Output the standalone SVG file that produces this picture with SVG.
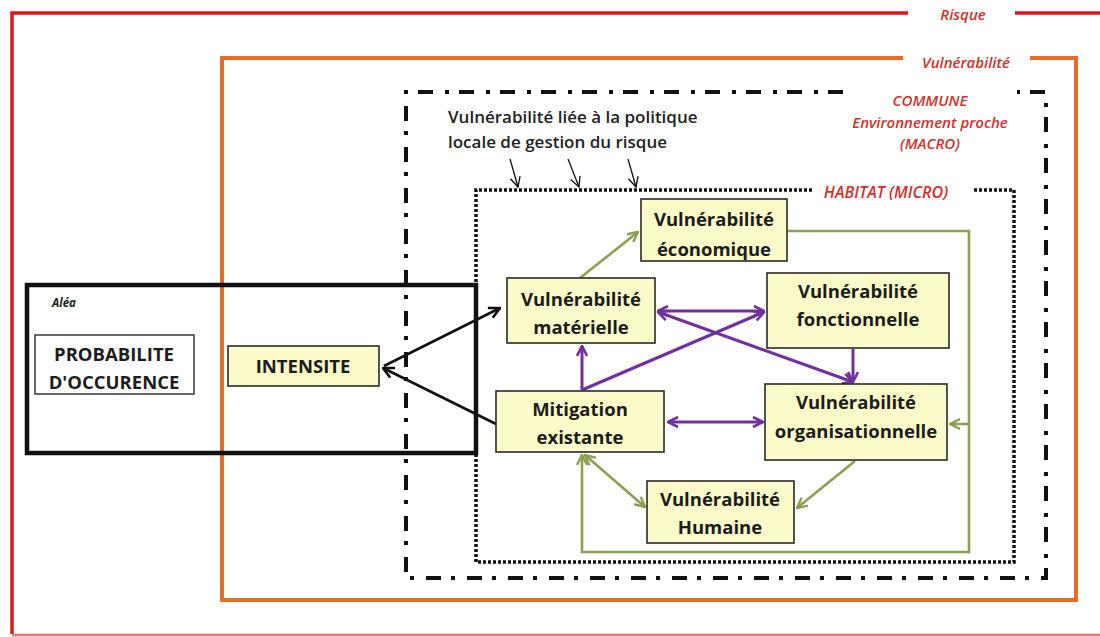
<svg xmlns="http://www.w3.org/2000/svg" width="1100" height="637" viewBox="0 0 1100 637">
<defs>
<style>
.node{fill:#fbfbc9;stroke:#2a2a2a;stroke-width:1.6}
.nt{font-family:"Open Sans","Liberation Sans",sans-serif;font-weight:700;font-size:18.5px;fill:#1c1c1c;text-anchor:middle}
.rt{font-family:"Open Sans","Liberation Sans",sans-serif;font-style:italic;font-weight:600;fill:#d2302c;text-anchor:middle}
.pu{stroke:#7030a0;stroke-width:3;fill:none}
.gr{stroke:#8ba052;stroke-width:2.6;fill:none}
.bk{stroke:#111;stroke-width:2.6;fill:none}
</style>
<marker id="ap" viewBox="0 0 12 12" refX="11" refY="6" markerWidth="12" markerHeight="12" markerUnits="userSpaceOnUse" orient="auto-start-reverse"><path d="M1,1 L11,6 L1,11" fill="none" stroke="#7030a0" stroke-width="2.6"/></marker>
<marker id="ag" viewBox="0 0 12 12" refX="11" refY="6" markerWidth="12" markerHeight="12" markerUnits="userSpaceOnUse" orient="auto-start-reverse"><path d="M1,1 L11,6 L1,11" fill="none" stroke="#8ba052" stroke-width="2.4"/></marker>
<marker id="ab" viewBox="0 0 12 12" refX="11" refY="6" markerWidth="13" markerHeight="13" markerUnits="userSpaceOnUse" orient="auto-start-reverse"><path d="M1,1 L11,6 L1,11" fill="none" stroke="#111" stroke-width="2.4"/></marker>
<marker id="at" viewBox="0 0 12 12" refX="11" refY="6" markerWidth="12" markerHeight="12" markerUnits="userSpaceOnUse" orient="auto"><path d="M1,1 L11,6 L1,11" fill="none" stroke="#111" stroke-width="1.3"/></marker>
</defs>
<rect width="1100" height="637" fill="#ffffff"/>

<g id="frame-risque">
<path d="M908,13 H12 V634" fill="none" stroke="#e0141e" stroke-width="3.5"/>
<path d="M1015,13 H1100" fill="none" stroke="#e0141e" stroke-width="3.5"/>
<path d="M12,635 H1100" fill="none" stroke="#f07272" stroke-width="2.5"/>
<text class="rt" x="963" y="20" font-size="15" font-weight="700">Risque</text>
</g>

<g id="frame-vulnerabilite">
<path d="M903,58 H222 V600 H1076 V58 H1030" fill="none" stroke="#ea6b26" stroke-width="4"/>
<text class="rt" x="966" y="68" font-size="15">Vulnérabilité</text>
</g>

<g id="frame-commune">
<path d="M843,92 H406 V578 H1046 V92 H1017" fill="none" stroke="#111" stroke-width="4" stroke-dasharray="15 10 4 12"/>
<text class="rt" x="930" y="106" font-size="15">COMMUNE</text>
<text class="rt" x="930" y="128" font-size="15">Environnement proche</text>
<text class="rt" x="930" y="149" font-size="15">(MACRO)</text>
</g>

<g id="politique">
<text font-family="'Open Sans','Liberation Sans',sans-serif" font-weight="600" font-size="17" fill="#222" x="448" y="123">Vulnérabilité liée à la politique</text>
<text font-family="'Open Sans','Liberation Sans',sans-serif" font-weight="600" font-size="17" fill="#222" x="448" y="148">locale de gestion du risque</text>
<line x1="510" y1="159" x2="518" y2="187" stroke="#111" stroke-width="1.3" marker-end="url(#at)"/>
<line x1="568" y1="159" x2="579" y2="187" stroke="#111" stroke-width="1.3" marker-end="url(#at)"/>
<line x1="628" y1="159" x2="636" y2="187" stroke="#111" stroke-width="1.3" marker-end="url(#at)"/>
</g>

<g id="frame-habitat">
<path d="M812,190 H476 V562 H1014 V190 H973" fill="none" stroke="#111" stroke-width="3.5" stroke-dasharray="3 2"/>
<text class="rt" x="886" y="198" font-size="16">HABITAT  (MICRO)</text>
</g>

<g id="alea">
<rect x="27" y="285" width="449" height="168" fill="none" stroke="#111" stroke-width="4.5"/>
<text x="52" y="307" font-family="'Open Sans','Liberation Sans',sans-serif" font-style="italic" font-weight="700" font-size="11.5" fill="#222">Aléa</text>
</g>

<g id="connectors">
<line class="bk" x1="384" y1="366" x2="500" y2="308" marker-end="url(#ab)"/>
<line class="bk" x1="496" y1="424" x2="383" y2="368" marker-end="url(#ab)"/>
<line class="gr" x1="580" y1="278" x2="638" y2="232" marker-end="url(#ag)"/>
<path class="gr" d="M788,231 H969 V552 H582 V455" marker-end="url(#ag)"/>
<line class="gr" x1="969" y1="424" x2="950" y2="424" marker-end="url(#ag)"/>
<line class="gr" x1="855" y1="461" x2="797" y2="508" marker-end="url(#ag)"/>
<line class="gr" x1="585" y1="455" x2="645" y2="507" marker-start="url(#ag)" marker-end="url(#ag)"/>
<line class="pu" x1="658" y1="311" x2="764" y2="311" marker-start="url(#ap)" marker-end="url(#ap)"/>
<line class="pu" x1="658" y1="312" x2="853" y2="382" marker-start="url(#ap)" marker-end="url(#ap)"/>
<line class="pu" x1="582" y1="390" x2="764" y2="312" marker-end="url(#ap)"/>
<line class="pu" x1="582" y1="390" x2="582" y2="346" marker-end="url(#ap)"/>
<line class="pu" x1="853" y1="349" x2="853" y2="382" marker-end="url(#ap)"/>
<line class="pu" x1="668" y1="422" x2="763" y2="422" marker-start="url(#ap)" marker-end="url(#ap)"/>
</g>

<g id="probabilite">
<rect x="35" y="335" width="159" height="59" fill="#ffffff" stroke="#2a2a2a" stroke-width="1.4"/>
<text class="nt" x="114" y="361" font-size="18">PROBABILITE</text>
<text class="nt" x="114" y="389" font-size="18">D'OCCURENCE</text>
</g>

<g id="intensite">
<rect class="node" x="228" y="346" width="151" height="40"/>
<text class="nt" x="303" y="373" font-size="17.5">INTENSITE</text>
</g>

<g id="economique">
<rect class="node" x="641" y="199" width="146" height="62"/>
<text class="nt" x="714" y="226">Vulnérabilité</text>
<text class="nt" x="714" y="256">économique</text>
</g>

<g id="materielle">
<rect class="node" x="507" y="278" width="148" height="65"/>
<text class="nt" x="581" y="306">Vulnérabilité</text>
<text class="nt" x="581" y="334">matérielle</text>
</g>

<g id="fonctionnelle">
<rect class="node" x="767" y="273" width="182" height="75"/>
<text class="nt" x="858" y="298">Vulnérabilité</text>
<text class="nt" x="858" y="326">fonctionnelle</text>
</g>

<g id="organisationnelle">
<rect class="node" x="765" y="384" width="182" height="76"/>
<text class="nt" x="856" y="409">Vulnérabilité</text>
<text class="nt" x="856" y="438">organisationnelle</text>
</g>

<g id="mitigation">
<rect class="node" x="496" y="391" width="168" height="61"/>
<text class="nt" x="580" y="416">Mitigation</text>
<text class="nt" x="580" y="444">existante</text>
</g>

<g id="humaine">
<rect class="node" x="647" y="481" width="147" height="62"/>
<text class="nt" x="720" y="506">Vulnérabilité</text>
<text class="nt" x="720" y="534">Humaine</text>
</g>
</svg>
